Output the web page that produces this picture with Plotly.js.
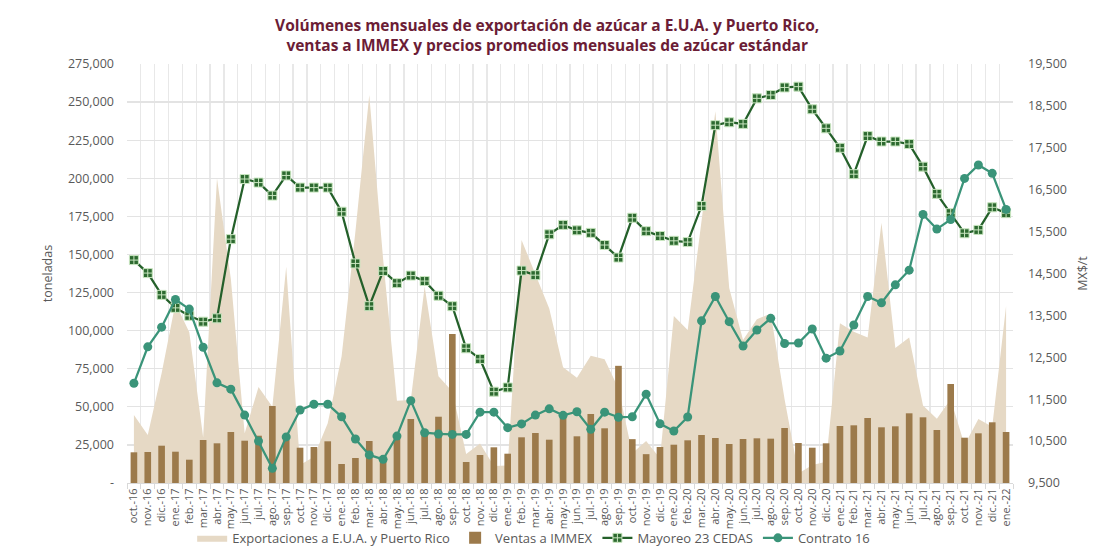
<!DOCTYPE html>
<html>
<head>
<meta charset="utf-8">
<script src="https://cdn.plot.ly/plotly-3.0.1.min.js"></script>
<style>html,body{margin:0;padding:0;background:#fff;}#chart{width:1101px;height:557px;}</style>
</head>
<body>
<div id="chart"></div>
<script>
var months = ["oct.-16","nov.-16","dic.-16",
  "ene.-17","feb.-17","mar.-17","abr.-17","may.-17","jun.-17","jul.-17","ago.-17","sep.-17","oct.-17","nov.-17","dic.-17",
  "ene.-18","feb.-18","mar.-18","abr.-18","may.-18","jun.-18","jul.-18","ago.-18","sep.-18","oct.-18","nov.-18","dic.-18",
  "ene.-19","feb.-19","mar.-19","abr.-19","may.-19","jun.-19","jul.-19","ago.-19","sep.-19","oct.-19","nov.-19","dic.-19",
  "ene.-20","feb.-20","mar.-20","abr.-20","may.-20","jun.-20","jul.-20","ago.-20","sep.-20","oct.-20","nov.-20","dic.-20",
  "ene.-21","feb.-21","mar.-21","abr.-21","may.-21","jun.-21","jul.-21","ago.-21","sep.-21","oct.-21","nov.-21","dic.-21",
  "ene.-22"];

var exportaciones = [44600, 31500, 72000,
  118000, 99000, 30000, 200000, 134000, 32600, 63000, 50000, 142000, 11800, 17300, 39200,
  83000, 165000, 254600, 147000, 54000, 54500, 129000, 70000, 60000, 19000, 26000, 11200,
  11500, 159500, 137000, 114600, 76000, 69000, 83500, 81200, 62000, 19500, 27600, 16200,
  109600, 100400, 172000, 244000, 128000, 93800, 107400, 111300, 55000, 6300, 11800, 14000,
  104800, 99300, 95500, 170800, 88600, 95500, 50800, 42200, 55000, 25000, 42000, 36900,
  116200];

var ventasImmex = [20150, 20350, 24480,
  20540, 15290, 28220, 26050, 33470, 27760, 31040, 50530, 28500, 23170, 23630, 27370,
  12470, 16410, 27560, 17000, 29500, 42000, 34000, 43500, 97800, 13780, 18380, 23430,
  19230, 29990, 32800, 28420, 44000, 30650, 45280, 35900, 76900, 28780, 18930, 23630,
  25140, 28020, 31500, 29530, 25600, 28880, 29330, 29100, 36100, 26250, 23170, 26050,
  37400, 37860, 42660, 36560, 37210, 45740, 43120, 34780, 64970, 29730, 32620, 39840,
  33470];

var mayoreo = [14820, 14510, 13990,
  13680, 13490, 13350, 13430, 15320, 16755, 16670, 16360, 16840, 16550, 16550, 16550,
  15975, 14740, 13720, 14560, 14270, 14450, 14320, 13970, 13720, 12715, 12460, 11680,
  11780, 14570, 14460, 15435, 15660, 15530, 15470, 15180, 14880, 15830, 15510, 15395,
  15280, 15250, 16110, 18040, 18110, 18070, 18680, 18760, 18940, 18960, 18420, 17965,
  17500, 16870, 17780, 17650, 17650, 17590, 17050, 16400, 15940, 15460, 15540, 16080,
  15940];

var contrato = [11880, 12750, 13220,
  13880, 13650, 12740, 11890, 11740, 11120, 10500, 9850, 10600, 11240, 11380, 11380,
  11080, 10550, 10170, 10065, 10620, 11465, 10700, 10670, 10660, 10660, 11190, 11190,
  10820, 10910, 11120, 11270, 11115, 11200, 10780, 11190, 11070, 11080, 11620, 10915,
  10740, 11075, 13370, 13950, 13350, 12770, 13150, 13430, 12830, 12840, 13175, 12480,
  12650, 13270, 13950, 13800, 14230, 14580, 15910, 15560, 15790, 16770, 17090, 16890,
  16030];

var leftTicks = [0,25000,50000,75000,100000,125000,150000,175000,200000,225000,250000,275000];
var leftTickText = ["-","25,000","50,000","75,000","100,000","125,000","150,000","175,000","200,000","225,000","250,000","275,000"];
var rightTicks = [9500,10500,11500,12500,13500,14500,15500,16500,17500,18500,19500];
var rightTickText = ["9,500","10,500","11,500","12,500","13,500","14,500","15,500","16,500","17,500","18,500","19,500"];

var FONT = "Open Sans, Noto Sans, sans-serif";
var GRAY = "#595959";

var traces = [
  {type:"scatter", mode:"lines", name:"Exportaciones a E.U.A. y Puerto Rico",
   x:months, y:exportaciones, xaxis:"x", yaxis:"y",
   fill:"tozeroy", fillcolor:"#E6D9C5", line:{width:0, color:"#E6D9C5"}},
  {type:"bar", name:"Ventas a IMMEX", x:months, y:ventasImmex, xaxis:"x", yaxis:"y2",
   marker:{color:"#9C7A4B"}},
  {type:"scatter", mode:"lines+markers", name:"Mayoreo 23 CEDAS",
   x:months, y:mayoreo, xaxis:"x", yaxis:"y3",
   line:{color:"#24602A", width:2.25},
   marker:{symbol:"square-cross", size:9, color:"#2D6A30", line:{color:"#C9E6C0", width:1}}},
  {type:"scatter", mode:"lines+markers", name:"Contrato 16",
   x:months, y:contrato, xaxis:"x", yaxis:"y3",
   line:{color:"#3A9479", width:2.25},
   marker:{symbol:"circle", size:9, color:"#3A9479"}}
];

var layout = {
  width:1101, height:557,
  margin:{l:127, r:88, t:64, b:74, autoexpand:false},
  paper_bgcolor:"#fff", plot_bgcolor:"#fff",
  font:{family:FONT, size:12, color:GRAY},
  showlegend:true,
  bargap:0.52,
  title:{text:"<b>Volúmenes mensuales de exportación de azúcar a E.U.A. y Puerto Rico,<br>ventas a IMMEX y precios promedios mensuales de azúcar estándar</b>",
         font:{family:FONT, size:15.5, color:"#6B1D36"},
         x:0.497, xanchor:"center", xref:"container", yref:"container", y:0.944, yanchor:"middle"},
  xaxis:{type:"category", categoryorder:"array", categoryarray:months,
         range:[-0.5, 63.5], tickson:"boundaries", ticks:"outside", ticklen:5, tickcolor:"#D9D9D9",
         showgrid:true, gridcolor:"#E8E8E8", gridwidth:1.3, showline:true, linecolor:"#D9D9D9",
         tickangle:-90, tickfont:{size:11, color:GRAY}, fixedrange:true, automargin:false},
  yaxis:{range:[0,275000], tickvals:leftTicks, ticktext:leftTickText, showgrid:true,
         gridcolor:"#E3E3E3", gridwidth:1.3, zeroline:false, ticks:"", ticklabelstandoff:12,
         tickfont:{size:12.5, color:GRAY}, automargin:false,
         title:{text:"toneladas", font:{size:12.5, color:GRAY}, standoff:12}},
  yaxis2:{range:[0,275000], overlaying:"y", visible:false, showgrid:false},
  yaxis3:{range:[9500,19500], overlaying:"y", side:"right", tickvals:rightTicks, ticktext:rightTickText,
          showgrid:false, zeroline:false, ticks:"", ticklabelstandoff:14, automargin:false,
          tickfont:{size:12.5, color:GRAY},
          title:{text:"MX$/t", font:{size:12.5, color:GRAY}, standoff:12}},
  legend:{orientation:"h", x:0.459, xanchor:"center", y:-0.131, yanchor:"middle",
          bgcolor:"rgba(0,0,0,0)", font:{size:13, color:GRAY}, itemwidth:30, tracegroupgap:0}
};

Plotly.newPlot("chart", traces, layout, {displayModeBar:false, staticPlot:true});
</script>
</body>
</html>
